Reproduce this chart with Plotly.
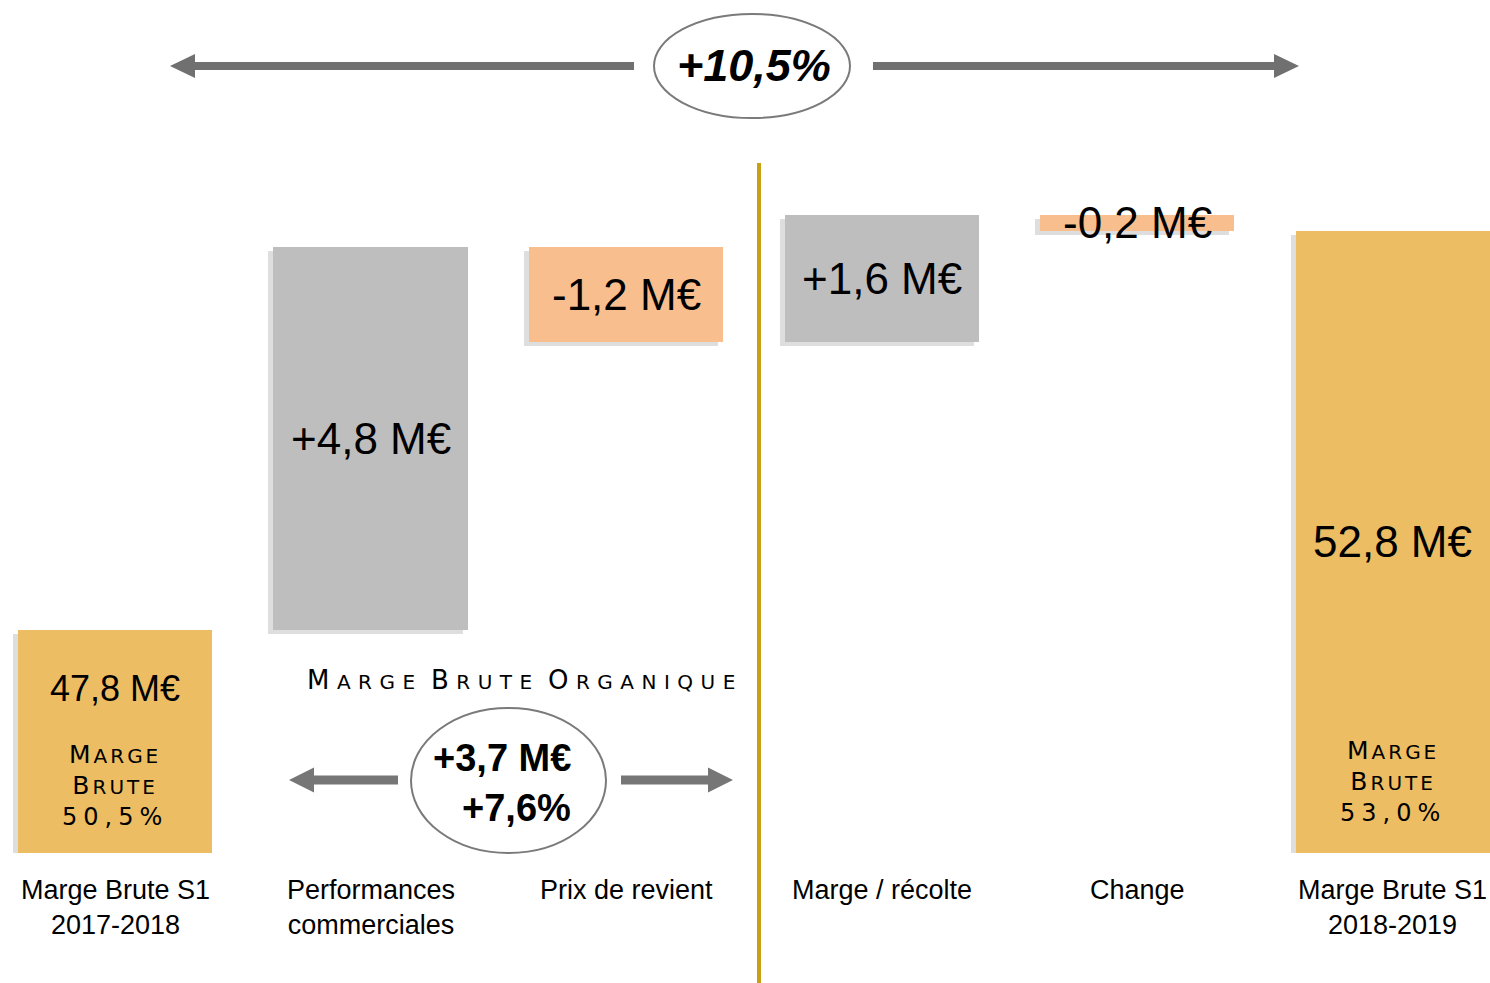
import plotly.graph_objects as go

# ---------------- data ----------------
categories = ["Marge Brute S1 2017-2018", "Performances commerciales", "Prix de revient",
              "Marge / récolte", "Change", "Marge Brute S1 2018-2019"]
cat_labels = ["Marge Brute S1<br>2017-2018", "Performances<br>commerciales", "Prix de revient",
              "Marge / récolte", "Change", "Marge Brute S1<br>2018-2019"]
start_value = 47.8
deltas = [4.8, -1.2, 1.6, -0.2]
end_value = 52.8
value_labels = ["47,8 M€", "+4,8 M€", "-1,2 M€", "+1,6 M€", "-0,2 M€", "52,8 M€"]
margin_rates = ["50,5%", "53,0%"]
organic_labels = ["+3,7 M€", "+7,6%"]
organic_title = "Marge Brute Organique"
total_growth = "+10,5%"

# ---------------- styles ----------------
W, H = 1490, 983
PLOT_BOTTOM = 853           # pixel of plot-area bottom
Y0 = 45.0                   # axis floor
PX_PER_UNIT = 79.79
GOLD = "#EDBD63"
GREY = "#BEBEBE"
SALMON = "#F8BE8E"
ARROW = "#707070"
SANS = "Liberation Sans, Arial, sans-serif"
CAPS_FONT = "DejaVu Sans, sans-serif"


def px(x):
    return x / W


def py(y):
    return (PLOT_BOTTOM - y) / PLOT_BOTTOM


# waterfall geometry from data
bases, heights, colors = [0.0], [start_value], [GOLD]
running = start_value
for d in deltas:
    bases.append(running if d >= 0 else running + d)
    heights.append(abs(d))
    colors.append(GREY if d >= 0 else SALMON)
    running += d
bases.append(0.0)
heights.append(end_value)
colors.append(GOLD)

BAR_W = 0.76
fig = go.Figure()
# soft shadow
fig.add_trace(go.Bar(x=categories, y=heights, base=[b - 0.05 for b in bases], width=BAR_W,
                     offset=-BAR_W / 2 - 0.02, marker=dict(color="rgba(0,0,0,0.13)", line_width=0),
                     hoverinfo="skip", showlegend=False))
fig.add_trace(go.Bar(x=categories, y=heights, base=bases, width=BAR_W, offset=-BAR_W / 2,
                     marker=dict(color=colors, line_width=0), showlegend=False))

ann = []
# value labels
for i, (c, lab) in enumerate(zip(categories, value_labels)):
    if i == 0:
        ann.append(dict(x=c, y=py(688), xref="x", yref="paper", xanchor="center", yanchor="middle",
                        text=lab, showarrow=False, font=dict(family=SANS, size=36, color="black")))
    else:
        lo = max(bases[i], Y0)
        mid = (lo + bases[i] + heights[i]) / 2
        ann.append(dict(x=c, y=mid, xref="x", yref="y", xanchor="center", yanchor="middle",
                        text=lab, showarrow=False, font=dict(family=SANS, size=44, color="black")))


def sc(word, big=25, small=20, ls=3):
    return (f'<span style="font-size:{big}px;letter-spacing:{ls}px">{word[0]}</span>'
            f'<span style="font-size:{small}px;letter-spacing:{ls}px">{word[1:]}</span>')


def caps_rate(rate, size=24, ls=6):
    return f'<span style="font-size:{size}px;letter-spacing:{ls}px">{rate}</span>'


for c, rate, ycen in [(categories[0], margin_rates[0], 785), (categories[-1], margin_rates[1], 781)]:
    txt = sc("MARGE") + "<br>" + sc("BRUTE") + "<br>" + caps_rate(rate)
    ann.append(dict(x=c, y=py(ycen), xref="x", yref="paper", xanchor="center", yanchor="middle",
                    text=txt, showarrow=False, font=dict(family=CAPS_FONT, size=24, color="black")))

# category labels
for c, lab in zip(categories, cat_labels):
    ann.append(dict(x=c, y=py(873), xref="x", yref="paper", xanchor="center", yanchor="top", text=lab,
                    showarrow=False, font=dict(family=SANS, size=27, color="black")))

# organic title
title_words = organic_title.upper().split()
ann.append(dict(x=px(525), y=py(680), xref="paper", yref="paper", xanchor="center", yanchor="middle",
                text=" ".join(sc(w, 26, 20, 7.5) for w in title_words), showarrow=False,
                font=dict(family=CAPS_FONT, size=26, color="black")))
# organic numbers
ann.append(dict(x=px(502), y=py(758), xref="paper", yref="paper", xanchor="center", yanchor="middle",
                text=f"<b>{organic_labels[0]}</b>", showarrow=False,
                font=dict(family=SANS, size=38, color="black")))
ann.append(dict(x=px(516), y=py(808), xref="paper", yref="paper", xanchor="center", yanchor="middle",
                text=f"<b>{organic_labels[1]}</b>", showarrow=False,
                font=dict(family=SANS, size=38, color="black")))
# total growth
ann.append(dict(x=px(754), y=py(65), xref="paper", yref="paper", xanchor="center", yanchor="middle",
                text=f"<b><i>{total_growth}</i></b>", showarrow=False,
                font=dict(family=SANS, size=45, color="black")))

shapes = []


def ellipse(x0, y0, x1, y1, color="#7A7A7A", w=2):
    return dict(type="circle", xref="paper", yref="paper", x0=px(x0), x1=px(x1), y0=py(y1), y1=py(y0),
                line=dict(color=color, width=w), fillcolor="white", layer="below")


def arrow(x_tail, x_tip, y, shaft=8, head_h=24, head_len=25, color=ARROW):
    s = 1 if x_tip > x_tail else -1
    xb = x_tip - s * head_len
    pts = [(x_tail, y - shaft / 2), (xb, y - shaft / 2), (xb, y - head_h / 2), (x_tip, y),
           (xb, y + head_h / 2), (xb, y + shaft / 2), (x_tail, y + shaft / 2)]
    path = "M " + " L ".join(f"{px(a):.6f},{py(b):.6f}" for a, b in pts) + " Z"
    return dict(type="path", xref="paper", yref="paper", path=path, fillcolor=color,
                line=dict(width=0))


shapes.append(ellipse(654, 14, 850, 118))
shapes.append(ellipse(411, 708, 606, 853))
shapes.append(arrow(634, 170, 66))
shapes.append(arrow(873, 1299, 66))
shapes.append(arrow(398, 289, 780, shaft=9, head_h=25, color="#767676"))
shapes.append(arrow(621, 733, 780, shaft=9, head_h=25, color="#767676"))
# gold separator
shapes.append(dict(type="line", xref="paper", yref="paper", x0=px(759), x1=px(759), y0=py(983),
                   y1=py(163), line=dict(color="#C9A012", width=4)))

fig.update_layout(
    width=W, height=H,
    margin=dict(l=0, r=0, t=0, b=H - PLOT_BOTTOM, pad=0),
    paper_bgcolor="white", plot_bgcolor="white",
    barmode="overlay", bargap=0,
    xaxis=dict(range=[-0.45, 5.38], showticklabels=False, showgrid=False, zeroline=False,
               showline=False, ticks=""),
    yaxis=dict(range=[Y0, Y0 + PLOT_BOTTOM / PX_PER_UNIT], showticklabels=False, showgrid=False,
               zeroline=False, showline=False, ticks=""),
    annotations=ann, shapes=shapes, showlegend=False,
)
fig.write_html("out.html", config={"displayModeBar": False},
               post_script="document.body.style.margin='0';document.body.style.overflow='hidden';")
